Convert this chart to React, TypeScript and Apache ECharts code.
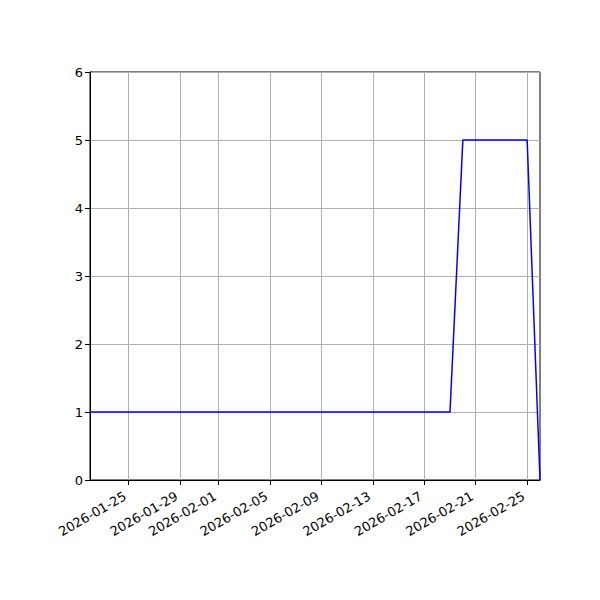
import React, { useEffect, useRef } from 'react';
import * as echarts from 'echarts';

const dates = [
    '2026-01-22', '2026-01-23', '2026-01-24', '2026-01-25', '2026-01-26', '2026-01-27',
    '2026-01-28', '2026-01-29', '2026-01-30', '2026-01-31', '2026-02-01', '2026-02-02',
    '2026-02-03', '2026-02-04', '2026-02-05', '2026-02-06', '2026-02-07', '2026-02-08',
    '2026-02-09', '2026-02-10', '2026-02-11', '2026-02-12', '2026-02-13', '2026-02-14',
    '2026-02-15', '2026-02-16', '2026-02-17', '2026-02-18', '2026-02-19', '2026-02-20',
    '2026-02-21', '2026-02-22', '2026-02-23', '2026-02-24', '2026-02-25', '2026-02-26'
];

const values = [
    1, 1, 1, 1, 1, 1,
    1, 1, 1, 1, 1, 1,
    1, 1, 1, 1, 1, 1,
    1, 1, 1, 1, 1, 1,
    1, 1, 1, 1, 1, 5,
    5, 5, 5, 5, 5, 0
];

const tickDates = [
    '2026-01-25', '2026-01-29', '2026-02-01', '2026-02-05', '2026-02-09',
    '2026-02-13', '2026-02-17', '2026-02-21', '2026-02-25'
];

const isTick = (_idx: number, value: string) => tickDates.includes(value);

const App: React.FC = () => {
    const chartRef = useRef<HTMLDivElement>(null);

    useEffect(() => {
        if (!chartRef.current) return;
        document.body.style.margin = '0';

        const chart = echarts.init(chartRef.current, undefined, { renderer: 'svg' });

        chart.setOption({
            animation: false,
            backgroundColor: '#ffffff',
            textStyle: { fontFamily: 'DejaVu Sans' },
            grid: {
                left: 90,
                right: 60,
                top: 72,
                bottom: 120,
                show: true,
                borderColor: '#000000',
                borderWidth: 1,
                backgroundColor: 'transparent'
            },
            xAxis: {
                type: 'category',
                data: dates,
                boundaryGap: false,
                axisLine: { lineStyle: { color: '#000000', width: 1 } },
                axisTick: {
                    show: true,
                    interval: isTick,
                    length: 5,
                    lineStyle: { color: '#000000' }
                },
                axisLabel: {
                    interval: isTick,
                    rotate: 30,
                    color: '#000000',
                    fontSize: 13,
                    margin: 13,
                    padding: [0, 4, 0, 0]
                },
                splitLine: {
                    show: true,
                    interval: isTick,
                    lineStyle: { color: '#b0b0b0', width: 1 }
                }
            },
            yAxis: {
                type: 'value',
                min: 0,
                max: 6,
                interval: 1,
                axisLine: { show: true, lineStyle: { color: '#000000', width: 1 } },
                axisTick: { show: true, length: 5, lineStyle: { color: '#000000' } },
                axisLabel: { color: '#000000', fontSize: 13, margin: 7 },
                splitLine: { show: true, lineStyle: { color: '#b0b0b0', width: 1 } }
            },
            series: [
                {
                    type: 'line',
                    data: values,
                    showSymbol: false,
                    symbol: 'none',
                    lineStyle: { color: '#0000ff', width: 1.5 },
                    itemStyle: { color: '#0000ff' }
                }
            ]
        });

        return () => {
            chart.dispose();
        };
    }, []);

    return <div ref={chartRef} style={{ width: '600px', height: '600px' }} />;
};

export default App;
